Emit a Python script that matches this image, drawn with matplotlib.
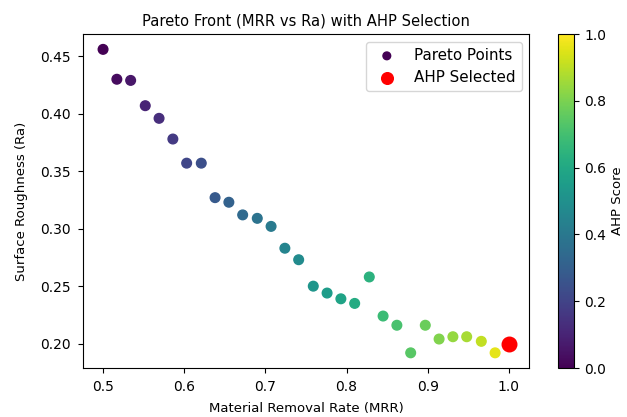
import matplotlib
matplotlib.use("Agg")
import matplotlib.pyplot as plt

mrr = [0.500, 0.517, 0.534, 0.552, 0.569, 0.586, 0.603, 0.621, 0.638, 0.655,
       0.672, 0.690, 0.707, 0.724, 0.741, 0.759, 0.776, 0.793, 0.810, 0.828,
       0.845, 0.862, 0.879, 0.897, 0.914, 0.931, 0.948, 0.966, 0.983, 1.000]
ra = [0.456, 0.430, 0.429, 0.407, 0.396, 0.378, 0.357, 0.357, 0.327, 0.323,
      0.312, 0.309, 0.302, 0.283, 0.273, 0.250, 0.244, 0.239, 0.235, 0.258,
      0.224, 0.216, 0.192, 0.216, 0.204, 0.206, 0.206, 0.202, 0.192, 0.200]
ahp_score = [0.00, 0.03, 0.06, 0.10, 0.13, 0.17, 0.21, 0.24, 0.28, 0.31,
             0.34, 0.38, 0.41, 0.45, 0.48, 0.52, 0.55, 0.58, 0.61, 0.64,
             0.68, 0.71, 0.74, 0.77, 0.81, 0.84, 0.87, 0.91, 0.96, 1.00]
selected_mrr = 1.000
selected_ra = 0.200

fig = plt.figure(figsize=(6.27, 4.17), dpi=100)
ax = fig.add_axes([0.132, 0.1175, 0.712, 0.8005])
cax = fig.add_axes([0.89, 0.1175, 0.0255, 0.8005])

sc = ax.scatter(mrr, ra, c=ahp_score, cmap="viridis", vmin=0, vmax=1,
                s=48, label="Pareto Points")
ax.scatter([selected_mrr], [selected_ra], color="red", s=110, label="AHP Selected")

ax.set_title("Pareto Front (MRR vs Ra) with AHP Selection", fontsize=10.6)
ax.set_xlabel("Material Removal Rate (MRR)", fontsize=9.5, labelpad=6)
ax.set_ylabel("Surface Roughness (Ra)", fontsize=9.5, labelpad=9)
ax.tick_params(labelsize=10, pad=5)
ax.legend(loc="upper right", fontsize=10.9, markerscale=0.8)

cb = fig.colorbar(sc, cax=cax)
cb.set_label("AHP Score", fontsize=9.5, labelpad=3)
cb.ax.tick_params(labelsize=10, pad=4)

fig.savefig("out.png", dpi=100)
